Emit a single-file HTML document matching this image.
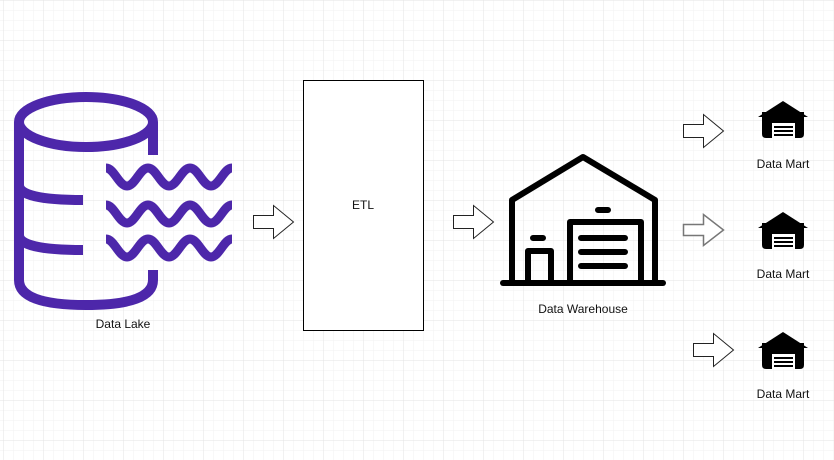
<!DOCTYPE html>
<html><head><style>
html,body{margin:0;padding:0;background:#fff}
svg{display:block}
text{font-family:"Liberation Sans",Arial,sans-serif;font-size:12px;fill:#111}
</style></head><body>
<svg width="834" height="460" viewBox="0 0 834 460" xmlns="http://www.w3.org/2000/svg">
<defs>
<pattern id="minor" width="10" height="10" patternUnits="userSpaceOnUse" x="3" y="0">
<path d="M0 0H10M0 0V10" stroke="#f2f2f2" stroke-width="1" fill="none"/>
</pattern>
<pattern id="major" width="40" height="40" patternUnits="userSpaceOnUse" x="3" y="0">
<path d="M0 0H40M0 0V40" stroke="#e3e3e3" stroke-width="1" fill="none"/>
</pattern>
</defs>
<rect width="834" height="460" fill="url(#minor)"/>
<rect width="834" height="460" fill="url(#major)"/>

<!-- Data Lake -->
<g stroke="#4d27aa" stroke-width="10" fill="none" stroke-linecap="butt">
<ellipse cx="86" cy="122" rx="67" ry="25"/>
<path d="M19 122 V280 Q19 305 86 305 Q153 305 153 280 V270"/>
<path d="M153 122 V155"/>
<path d="M19 185 Q19 200 83 200"/>
<path d="M19 235 Q19 250 83 250"/>
<path id="wv" d="M106 168 C114 168 119 186 127 186 C135 186 140 168 148 168 C156 168 161 186 169 186 C177 186 182 168 190 168 C198 168 203 186 211 186 C219 186 224 168 232 168" stroke-width="9"/>
<use href="#wv" y="37"/>
<use href="#wv" y="71"/>
</g>
<text x="123" y="328" text-anchor="middle">Data Lake</text>

<!-- arrows -->
<g fill="#fff" stroke="#222" stroke-width="1">
<path d="M253.5 215.5H273.5V205.5L293.5 222L273.5 238.5V228.5H253.5Z"/>
<path d="M453.5 215.5H473.5V205.5L493.5 222L473.5 238.5V228.5H453.5Z"/>
<path d="M683.5 124.5H703.5V114.5L723.5 131L703.5 147.5V137.5H683.5Z"/>
<path d="M693.5 343.5H713.5V333.5L733.5 350L713.5 366.5V356.5H693.5Z"/>
</g>
<path d="M683.5 224.5H703.5V214.5L723.5 230L703.5 245.5V235.5H683.5Z" fill="#fff" stroke="#777" stroke-width="1.5"/>

<!-- ETL -->
<rect x="303.5" y="80.5" width="120" height="250" fill="#fff" stroke="#000"/>
<text x="363" y="209" text-anchor="middle">ETL</text>

<!-- Warehouse -->
<g stroke="#000" stroke-width="6" fill="none" stroke-linecap="round" stroke-linejoin="round">
<path d="M512 283V200L583 157L655 200V283"/>
<path d="M503 283H663"/>
<path d="M570 283V222H641V283"/>
<path d="M581 238H625M581 252H625M581 266H625"/>
<path d="M528 283V251H551V283"/>
<path d="M533 238H543M598 210H608"/>
</g>
<text x="583" y="313" text-anchor="middle">Data Warehouse</text>

<!-- Data marts -->
<g id="dm">
<path d="M758 117L783 101L808 117Z" fill="#000"/>
<path d="M762 112H804V134Q804 138 800 138H766Q762 138 762 134Z" fill="#000"/>
<rect x="772" y="123" width="23" height="15" fill="#fff"/>
<path d="M774 127H793M774 131H793M774 135H793" stroke="#000" stroke-width="2"/>
</g>
<use href="#dm" y="111"/>
<use href="#dm" y="231"/>
<text x="783" y="168" text-anchor="middle">Data Mart</text>
<text x="783" y="278" text-anchor="middle">Data Mart</text>
<text x="783" y="398" text-anchor="middle">Data Mart</text>
</svg>
</body></html>
